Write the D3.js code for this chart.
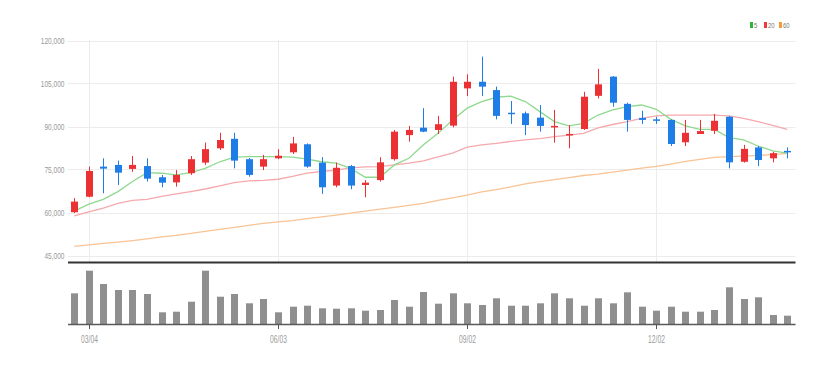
<!DOCTYPE html>
<html>
<head>
<meta charset="utf-8">
<script src="https://cdn.jsdelivr.net/npm/d3@7"></script>
<style>
  body { margin: 0; background: #fff; }
  svg text { font-family: "Liberation Sans", Arial, sans-serif; }
</style>
</head>
<body>
<div class="box"></div>
<script>
// weekly candles, 50 weeks starting Mon 2024-02-26
const opens  = [60100, 65500, 76000, 76600, 75200, 76200, 72300, 70500, 73700, 77400,
                82400, 85700, 78600, 76000, 78900, 81000, 83800, 77400, 69400, 76200,
                69600, 71300, 78600, 87000, 89600, 88800, 90300, 103300, 105600, 102700,
                94800, 94600, 93100, 89700, 86900, 89100, 100700, 107400, 97900, 93000,
                92500, 92300, 84500, 87400, 88500, 93400, 77700, 82700, 78900, 81500];
const highs  = [65000, 76000, 78900, 78100, 79700, 78900, 73100, 74800, 79700, 84400,
                87800, 87800, 79000, 80100, 82100, 86400, 84100, 79300, 77400, 76600,
                71300, 79300, 88800, 90200, 96400, 93700, 107400, 108200, 114400, 103900,
                98900, 95200, 97500, 95800, 90500, 102100, 110100, 107600, 98300, 95500,
                93400, 92500, 92300, 92300, 94400, 93700, 83600, 83200, 81200, 82700];
const lows   = [59800, 65300, 66700, 69600, 74200, 70800, 68800, 69000, 73100, 76600,
                81800, 75400, 72500, 74800, 78600, 80400, 75600, 66500, 68800, 68100,
                65300, 70800, 78100, 84700, 88000, 87400, 89700, 100600, 100600, 92500,
                90900, 87000, 88200, 84400, 82400, 88800, 99800, 96900, 88200, 90900,
                90900, 83200, 83200, 87400, 87400, 75400, 77400, 76200, 77500, 78900];
const closes = [63800, 74500, 75300, 73900, 76600, 71800, 70400, 73100, 78600, 82100,
                85300, 78100, 73100, 78600, 79800, 84100, 76000, 68800, 75600, 69400,
                70400, 77500, 88200, 88800, 88200, 90800, 105600, 105600, 103900, 93700,
                94400, 90500, 90200, 90200, 87400, 100400, 104700, 98300, 92300, 92300,
                92000, 83900, 87800, 88400, 92000, 77500, 82200, 78300, 80700, 81000];

// moving averages as drawn
const ma5  = [60500, 62900, 64600, 67300, 70800, 73900, 73700, 73100, 73900, 75400,
              77700, 79300, 79500, 79500, 79500, 79300, 78600, 77700, 77200, 75400,
              72300, 72300, 76600, 78900, 83600, 87600, 92300, 96400, 98700, 100200,
              100600, 98700, 95200, 91700, 90200, 91100, 94000, 95800, 96900, 97500,
              96000, 92500, 90200, 89000, 89000, 86100, 85300, 83200, 81500, 80700];
const ma20 = [58800, 60200, 61500, 63200, 64200, 64600, 65600, 66500, 67300, 68200,
              69300, 70400, 71000, 71200, 71600, 72600, 73700, 74300, 74800, 75600,
              75900, 76000, 76600, 77200, 78000, 79400, 80700, 82800, 83600, 84100,
              84800, 85300, 85800, 86500, 87000, 87600, 89500, 90700, 91700, 92800,
              93700, 94000, 94000, 94000, 94000, 93700, 92800, 91700, 90400, 89000];
const ma60 = [48200, 48700, 49200, 49700, 50200, 50800, 51500, 52000, 52700, 53400,
              54100, 54800, 55500, 56200, 56700, 57200, 57900, 58500, 59100, 59800,
              60500, 61200, 61800, 62500, 63200, 64200, 65100, 66100, 67200, 68000,
              68900, 70000, 70800, 71500, 72200, 72900, 73400, 74100, 74800, 75500,
              76100, 76900, 77800, 78500, 79200, 79500, 79700, 79900, 80200, 80600];

const volumes = [307000, 533000, 400000, 340000, 340000, 300000, 117000, 123000, 223000, 533000,
                 273000, 300000, 207000, 250000, 117000, 173000, 183000, 157000, 153000, 157000,
                 133000, 140000, 240000, 173000, 320000, 203000, 307000, 207000, 190000, 257000,
                 183000, 183000, 207000, 307000, 257000, 183000, 257000, 207000, 317000, 173000,
                 133000, 173000, 123000, 123000, 140000, 367000, 250000, 267000, 90000, 83000];

const priceTicks = [45000, 60000, 75000, 90000, 105000, 120000];
const tickLabels = ["03/04", "06/03", "09/02", "12/02"];

const maNames  = ["5", "20", "60"];
const maLines  = [ma5, ma20, ma60];
const maColors = ["#8fd98f", "#f5a9ad", "#f9c394"];
const legendColors = ["#2fb33a", "#ee3b3b", "#f59a3a"];

const upColor = "#ec3134";
const downColor = "#1f7de8";

// SVG
const w = 835;
const h = 365;
const left = 67, right = 794.5;

const svg = d3.select(".box")
              .append("svg")
              .attr("width", w)
              .attr("height", h);

const fmt = d3.timeFormat("%m/%d");
const weeks = d3.timeMonday.range(new Date(2024, 1, 26), new Date(2025, 1, 4)).map(fmt);

const x = d3.scaleBand()
            .domain(weeks)
            .range([left, right]);
const cx = i => x(weeks[i]) + x.bandwidth() / 2;

const y = d3.scaleLinear()
            .domain([45000, 120000])
            .range([255.5, 40.5]);

const yVol = d3.scaleLinear()
               .domain([0, 533000])
               .range([324, 270.7]);

// GRID
svg.append("g")
   .selectAll("line")
   .data(priceTicks)
   .enter()
   .append("line")
   .attr("x1", left + 1)
   .attr("x2", right + 1)
   .attr("y1", d => Math.round(y(d)) + 0.5)
   .attr("y2", d => Math.round(y(d)) + 0.5)
   .attr("stroke", "#ececec");

svg.append("g")
   .selectAll("line")
   .data(tickLabels)
   .enter()
   .append("line")
   .attr("x1", d => Math.round(x(d) + x.bandwidth() / 2) + 0.5)
   .attr("x2", d => Math.round(x(d) + x.bandwidth() / 2) + 0.5)
   .attr("y1", 40)
   .attr("y2", 262)
   .attr("stroke", "#ececec");

// Y labels (condensed look)
svg.append("g")
   .selectAll("text")
   .data(priceTicks)
   .enter()
   .append("text")
   .attr("transform", d => "translate(64.5," + (y(d) + 3.5) + ") scale(0.69,1)")
   .attr("text-anchor", "end")
   .attr("font-size", "9.5px")
   .attr("fill", "#9a9a9a")
   .text(d3.format(","));

// MOVING AVERAGES
const line = d3.line()
               .x((d, i) => cx(i))
               .y(d => y(d));

svg.append("g")
   .selectAll("path")
   .data(maLines.slice().reverse())
   .enter()
   .append("path")
   .attr("d", line)
   .attr("fill", "none")
   .attr("stroke", (d, i) => maColors.slice().reverse()[i])
   .attr("stroke-width", 1.3);

// CANDLES
const idx = d3.range(weeks.length);
const bodyW = 7;
const candle = svg.append("g")
                  .selectAll("g")
                  .data(idx)
                  .enter()
                  .append("g")
                  .attr("fill", i => closes[i] >= opens[i] ? upColor : downColor)
                  .attr("stroke", i => closes[i] >= opens[i] ? upColor : downColor);

candle.append("line")
      .attr("x1", i => Math.round(cx(i)) + 0.5)
      .attr("x2", i => Math.round(cx(i)) + 0.5)
      .attr("y1", i => y(highs[i]))
      .attr("y2", i => y(lows[i]))
      .attr("stroke-width", 1);

candle.append("rect")
      .attr("x", i => Math.round(cx(i)) + 0.5 - bodyW / 2)
      .attr("width", bodyW)
      .attr("y", i => y(Math.max(opens[i], closes[i])))
      .attr("height", i => Math.max(1.5, Math.abs(y(opens[i]) - y(closes[i]))))
      .attr("stroke", "none");

// separator between price and volume
svg.append("line")
   .attr("x1", left + 1)
   .attr("x2", right + 1)
   .attr("y1", 262.5)
   .attr("y2", 262.5)
   .attr("stroke", "#333")
   .attr("stroke-width", 2);

// VOLUME
svg.append("g")
   .selectAll("rect")
   .data(idx)
   .enter()
   .append("rect")
   .attr("x", i => Math.round(cx(i)) + 0.5 - bodyW / 2)
   .attr("width", bodyW)
   .attr("y", i => yVol(volumes[i]))
   .attr("height", i => yVol(0) - yVol(volumes[i]))
   .attr("fill", "#8f8f8f");

svg.append("line")
   .attr("x1", left + 1)
   .attr("x2", right + 1)
   .attr("y1", 324.5)
   .attr("y2", 324.5)
   .attr("stroke", "#5a5a5a")
   .attr("stroke-width", 1.5);

// X axis ticks and labels
const xt = svg.append("g")
              .selectAll("g")
              .data(tickLabels)
              .enter()
              .append("g")
              .attr("transform", d => "translate(" + (Math.round(x(d) + x.bandwidth() / 2) + 0.5) + ",0)");

xt.append("line")
  .attr("y1", 325)
  .attr("y2", 329)
  .attr("stroke", "#555");

xt.append("text")
  .attr("transform", "translate(0,343) scale(0.67,1)")
  .attr("text-anchor", "middle")
  .attr("font-size", "10px")
  .attr("fill", "#9a9a9a")
  .text(d => d);

// LEGEND
const legend = svg.append("g")
                  .attr("id", "legend")
                  .attr("transform", "translate(750,0)");
const legendX = [0, 14, 29];

legend.selectAll("rect")
      .data(maNames)
      .enter()
      .append("rect")
      .attr("x", (d, i) => legendX[i])
      .attr("y", 22)
      .attr("width", 3)
      .attr("height", 6)
      .attr("fill", (d, i) => legendColors[i]);

legend.selectAll("text")
      .data(maNames)
      .enter()
      .append("text")
      .attr("transform", (d, i) => "translate(" + (legendX[i] + 4) + ",28) scale(0.75,1)")
      .attr("font-size", "8px")
      .attr("fill", "#777")
      .text(d => d);
</script>
</body>
</html>
